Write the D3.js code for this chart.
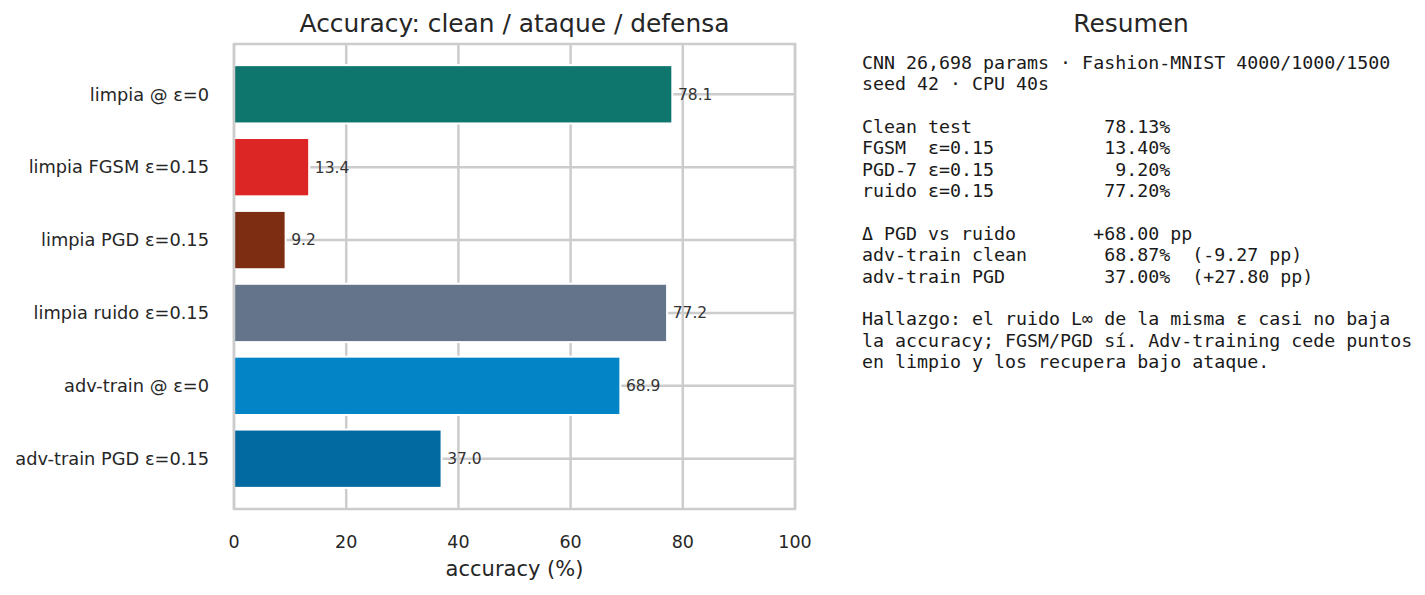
<!DOCTYPE html>
<html>
<head>
<meta charset="utf-8">
<script src="https://cdn.jsdelivr.net/npm/d3@7"></script>
<style>
  html, body { margin: 0; padding: 0; background: #ffffff; }
  svg { display: block; }
  text { font-family: "DejaVu Sans", sans-serif; }
  .mono { font-family: "DejaVu Sans Mono", monospace; white-space: pre; }
</style>
</head>
<body>
<svg id="chart" width="1425" height="595"></svg>
<script>
// ---- data ----
const categories = [
  "limpia @ ε=0",
  "limpia FGSM ε=0.15",
  "limpia PGD ε=0.15",
  "limpia ruido ε=0.15",
  "adv-train @ ε=0",
  "adv-train PGD ε=0.15"
];
const values = [78.13, 13.40, 9.20, 77.20, 68.87, 37.00];
const barColors = ["#0f766e", "#dc2626", "#7c2d12", "#64748b", "#0284c7", "#0369a1"];
const xTicks = [0, 20, 40, 60, 80, 100];
const chartTitle = "Accuracy: clean / ataque / defensa";
const xLabel = "accuracy (%)";
const summaryTitle = "Resumen";
const summaryLines = [
  "CNN 26,698 params · Fashion-MNIST 4000/1000/1500",
  "seed 42 · CPU 40s",
  "",
  "Clean test            78.13%",
  "FGSM  ε=0.15          13.40%",
  "PGD-7 ε=0.15           9.20%",
  "ruido ε=0.15          77.20%",
  "",
  "Δ PGD vs ruido       +68.00 pp",
  "adv-train clean       68.87%  (-9.27 pp)",
  "adv-train PGD         37.00%  (+27.80 pp)",
  "",
  "Hallazgo: el ruido L∞ de la misma ε casi no baja",
  "la accuracy; FGSM/PGD sí. Adv-training cede puntos",
  "en limpio y los recupera bajo ataque."
];

(function () {
// ---- layout ----
const svg = d3.select("#chart");
const L = 234, R = 795, T = 44, B = 509;
const gridColor = "#cccccc";
const textColor = "#262626";

const x = d3.scaleLinear().domain([0, 100]).range([L, R]);
const y = d3.scaleLinear().domain([-0.69, 5.69]).range([T, B]);
const idx = d3.range(categories.length);

// grid
const g = svg.append("g");
g.selectAll("line.vgrid").data(xTicks).join("line")
  .attr("x1", d => x(d)).attr("x2", d => x(d))
  .attr("y1", T).attr("y2", B)
  .attr("stroke", gridColor).attr("stroke-width", 2.5);
g.selectAll("line.hgrid").data(idx).join("line")
  .attr("x1", L).attr("x2", R)
  .attr("y1", i => y(i)).attr("y2", i => y(i))
  .attr("stroke", gridColor).attr("stroke-width", 2.5);

// bars
svg.append("g").selectAll("rect").data(idx).join("rect")
  .attr("x", x(0))
  .attr("y", i => y(i - 0.4))
  .attr("width", i => x(values[i]) - x(0))
  .attr("height", i => y(i + 0.4) - y(i - 0.4))
  .attr("fill", i => barColors[i])
  .attr("stroke", "#ffffff").attr("stroke-width", 2);

// spines
svg.append("rect")
  .attr("x", L).attr("y", T)
  .attr("width", R - L).attr("height", B - T)
  .attr("fill", "none").attr("stroke", gridColor).attr("stroke-width", 2.5);

// value labels
svg.append("g").selectAll("text").data(idx).join("text")
  .attr("x", i => x(values[i] + 1))
  .attr("y", i => y(i))
  .attr("dy", "0.35em")
  .attr("font-size", 15.5)
  .attr("fill", "#333333")
  .text(i => values[i].toFixed(1));

// y tick labels
svg.append("g").selectAll("text").data(idx).join("text")
  .attr("x", L - 25)
  .attr("y", i => y(i))
  .attr("dy", "0.35em")
  .attr("text-anchor", "end")
  .attr("font-size", 17.8)
  .attr("fill", textColor)
  .text(i => categories[i]);

// x tick labels
svg.append("g").selectAll("text").data(xTicks).join("text")
  .attr("x", d => x(d))
  .attr("y", 548)
  .attr("text-anchor", "middle")
  .attr("font-size", 17.5)
  .attr("fill", textColor)
  .text(d => d);

// x axis label
svg.append("text")
  .attr("x", (L + R) / 2).attr("y", 576)
  .attr("text-anchor", "middle")
  .attr("font-size", 21)
  .attr("fill", textColor)
  .text(xLabel);

// title
svg.append("text")
  .attr("x", (L + R) / 2).attr("y", 32)
  .attr("text-anchor", "middle")
  .attr("font-size", 24.9)
  .attr("fill", textColor)
  .text(chartTitle);

// summary panel
svg.append("text")
  .attr("x", 1131).attr("y", 32)
  .attr("text-anchor", "middle")
  .attr("font-size", 24.9)
  .attr("fill", textColor)
  .text(summaryTitle);

svg.append("g").selectAll("text").data(summaryLines).join("text")
  .attr("class", "mono")
  .attr("x", 862)
  .attr("y", (d, i) => 69 + i * 21.36)
  .attr("font-size", 18.3)
  .attr("fill", "#1a1a1a")
  .text(d => d);
})();
</script>
</body>
</html>
